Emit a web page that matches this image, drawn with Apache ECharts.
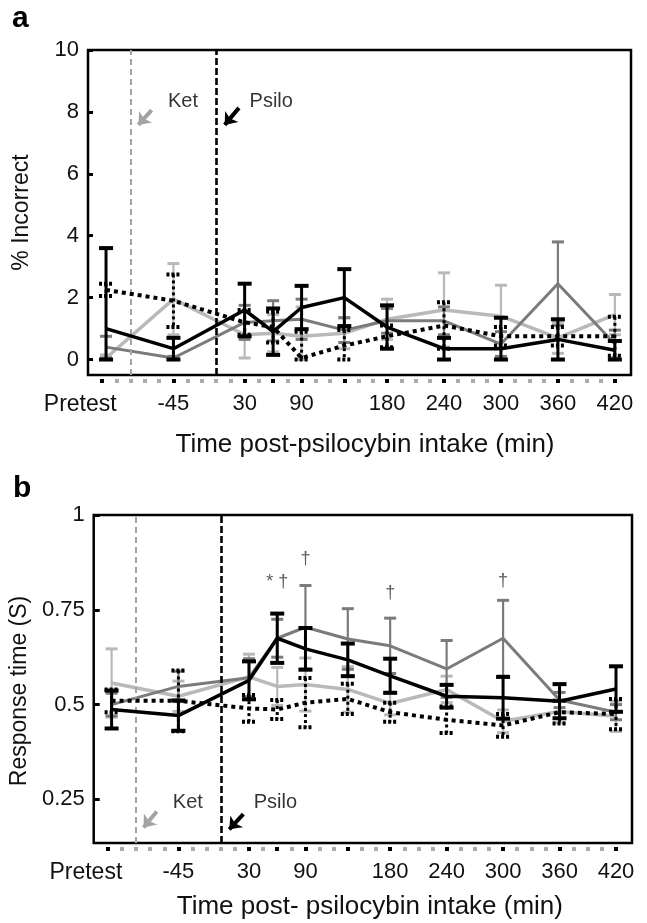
<!DOCTYPE html>
<html><head><meta charset="utf-8">
<script src="https://cdn.jsdelivr.net/npm/echarts@6/dist/echarts.min.js"></script>
<style>html,body{margin:0;padding:0;background:#fff}#c{width:647px;height:923px}</style>
</head><body><div id="c"></div>
<script>
// ---- data (minutes relative to psilocybin intake) ----
const TIMES = [-116, -45, 30, 60, 90, 135, 180, 240, 300, 360, 420];
const TICK_MAJOR = [-120, -45, 30, 60, 90, 135, 180, 240, 300, 360, 420];
const TICK_MINOR = [-105, -90, -75, -60, -30, -15, 0, 15, 45, 75, 105, 120, 150, 165, 195, 210, 225, 255, 270, 285, 315, 330, 345, 375, 390, 405];
const X_LABELS = [-120, -45, 30, 90, 180, 240, 300, 360, 420];
const Y_TICKS_A = [0, 2, 4, 6, 8, 10];
const Y_TICKS_B = [0.25, 0.5, 0.75, 1];
const KET_TIME = -90;
const PSILO_TIME = 0;

// panel a: % incorrect
const A_BLACK = [1.0, 0.35, 1.6, 0.9, 1.68, 2.0, 1.05, 0.35, 0.35, 0.65, 0.3];
const A_BLACK_ERR = [2.6, 0.35, 0.85, 0.75, 0.7, 0.92, 0.7, 0.35, 1.0, 0.65, 0.3];
const A_DGRAY = [0.4, 0.05, 1.2, 1.25, 1.3, 0.95, 1.25, 1.25, 0.5, 2.45, 0.5];
const A_DGRAY_ERR = [0.35, 0.05, 0.55, 0.65, 0.65, 0.4, 0.4, 0.45, 0.4, 1.35, 0.45];
const A_LGRAY = [0.05, 1.95, 0.8, 0.85, 0.75, 0.85, 1.3, 1.6, 1.4, 0.7, 1.45];
const A_LGRAY_ERR = [0.1, 1.15, 0.75, 0.6, 0.95, 0.5, 0.65, 1.2, 1.0, 0.5, 0.65];
const A_DOT = [2.25, 1.9, 1.2, 1.05, 0.05, 0.45, 0.75, 1.1, 0.75, 0.75, 0.75];
const A_DOT_ERR = [0.2, 0.85, 0.4, 0.5, 0.85, 0.5, 0.35, 0.75, 0.3, 0.3, 0.63];

// panel b: response time (s)
const B_BLACK = [0.487, 0.471, 0.564, 0.675, 0.647, 0.618, 0.576, 0.522, 0.518, 0.509, 0.541];
const B_BLACK_ERR = [0.05, 0.04, 0.05, 0.065, 0.055, 0.043, 0.045, 0.03, 0.055, 0.045, 0.06];
const B_DGRAY = [0.50, 0.548, 0.571, 0.675, 0.704, 0.673, 0.655, 0.594, 0.675, 0.512, 0.48];
const B_DGRAY_ERR = [0.03, 0.04, 0.05, 0.05, 0.11, 0.08, 0.073, 0.075, 0.10, 0.02, 0.02];
const B_LGRAY = [0.557, 0.522, 0.573, 0.548, 0.553, 0.54, 0.503, 0.54, 0.456, 0.482, 0.469];
const B_LGRAY_ERR = [0.09, 0.04, 0.06, 0.05, 0.07, 0.06, 0.03, 0.035, 0.03, 0.03, 0.04];
const B_DOT = [0.51, 0.51, 0.49, 0.487, 0.505, 0.515, 0.48, 0.46, 0.445, 0.48, 0.475];
const B_DOT_ERR = [0.03, 0.08, 0.035, 0.025, 0.065, 0.04, 0.025, 0.035, 0.03, 0.03, 0.04];

// significance marks in panel b: [time, value, text]
const SIG_B = [[60, 0.822, '* †'], [90, 0.884, '†'], [180, 0.795, '†'], [300, 0.826, '†']];
// annotation anchors: [time, valueA, valueB]
const KET_TEXT = [-35, 8.35, 0.242];
const PSILO_TEXT = [58, 8.35, 0.242];
const KET_ARROW = [[-68, 8.06, 0.218], [-82, 7.58, 0.176]];
const PSILO_ARROW = [[24, 8.13, 0.211], [9, 7.58, 0.171]];

// ---- styling ----
const FONT = 'Liberation Sans, Arial, Helvetica, sans-serif';
const C_BLACK = '#000', C_DGRAY = '#7b7b7b', C_LGRAY = '#b9b9b9', C_KET = '#a3a3a3';
const X_MIN = -135, X_MAX = 437;

function errRender(color, width, capW, capWidth, dash) {
  return function (params, api) {
    const x = api.value(0), lo = api.value(1), hi = api.value(2);
    const p1 = api.coord([x, hi]), p2 = api.coord([x, lo]);
    const st = { stroke: color, lineWidth: width, fill: null, lineDash: dash || null };
    const cs = { stroke: color, lineWidth: capWidth, fill: null, lineDash: dash ? [3, 2] : null };
    return { type: 'group', children: [
      { type: 'line', shape: { x1: p1[0], y1: p1[1], x2: p2[0], y2: p2[1] }, style: st },
      { type: 'line', shape: { x1: p1[0] - capW / 2, y1: p1[1], x2: p1[0] + capW / 2, y2: p1[1] }, style: cs },
      { type: 'line', shape: { x1: p2[0] - capW / 2, y1: p2[1], x2: p2[0] + capW / 2, y2: p2[1] }, style: cs }
    ]};
  };
}

function group(name, vals, errs, xi, yi, color, lw, dashType, clipZero, z) {
  const pts = TIMES.map((t, i) => [t, vals[i]]);
  const ebs = TIMES.map((t, i) => [t, clipZero ? Math.max(0, vals[i] - errs[i]) : vals[i] - errs[i], vals[i] + errs[i]]);
  const isBlack = color === C_BLACK;
  return [
    { type: 'custom', name: name + ' err', xAxisIndex: xi, yAxisIndex: yi, z: z,
      renderItem: errRender(color, isBlack ? 3 : 2.2, isBlack ? 14 : 12, isBlack ? 4 : 3, dashType ? [3, 3] : null),
      encode: { x: 0, y: [1, 2] }, data: ebs, silent: true },
    { type: 'line', name: name, xAxisIndex: xi, yAxisIndex: yi, z: z, data: pts, showSymbol: false, symbol: 'none',
      lineStyle: { color: color, width: lw, type: dashType || 'solid' }, silent: true }
  ];
}

function decor(xi, yi, k) {
  const ketLine = { xAxis: KET_TIME, lineStyle: { color: C_KET, type: [6, 4], width: 2 } };
  const psiloLine = { xAxis: PSILO_TIME, lineStyle: { color: '#000', type: [7, 3], width: 2.6 } };
  return [
    { type: 'scatter', xAxisIndex: xi, yAxisIndex: yi, symbolSize: 0, silent: true, z: 1,
      data: [
        { name: 'Ket', value: [KET_TEXT[0], KET_TEXT[k]] },
        { name: 'Psilo', value: [PSILO_TEXT[0], PSILO_TEXT[k]] }
      ],
      label: { show: true, position: 'inside', formatter: '{b}', fontFamily: FONT, fontSize: 20, color: '#000' },
      markLine: { silent: true, symbol: 'none', label: { show: false }, animation: false,
        data: [ketLine, psiloLine] } },
    { type: 'line', xAxisIndex: xi, yAxisIndex: yi, data: [], silent: true, z: 1,
      markLine: { silent: true, symbol: ['none', 'arrow'], symbolSize: [13, 11], label: { show: false }, animation: false,
        data: [
          [{ coord: [KET_ARROW[0][0], KET_ARROW[0][k]], lineStyle: { color: C_KET, width: 4, type: 'solid' } },
           { coord: [KET_ARROW[1][0], KET_ARROW[1][k]] }],
          [{ coord: [PSILO_ARROW[0][0], PSILO_ARROW[0][k]], lineStyle: { color: '#000', width: 4, type: 'solid' } },
           { coord: [PSILO_ARROW[1][0], PSILO_ARROW[1][k]] }]
        ] } }
  ];
}

function xAxes(gi, title, padL, gap) {
  return [
    { type: 'value', gridIndex: gi, min: X_MIN, max: X_MAX, position: 'bottom', offset: 4,
      axisLine: { show: false, onZero: false }, splitLine: { show: false },
      axisTick: { show: true, inside: false, length: 4, customValues: TICK_MAJOR, lineStyle: { color: '#000', width: 4 } },
      axisLabel: { show: true, customValues: X_LABELS, margin: 14, fontFamily: FONT, fontSize: 22, color: '#111',
        formatter: v => v === -120 ? '{p|Pretest}' : String(v),
        rich: { p: { fontFamily: FONT, fontSize: 23, color: '#111', padding: [0, 44, 0, 0] } } },
      name: title, nameLocation: 'middle', nameGap: gap,
      nameTextStyle: { fontFamily: FONT, fontSize: 26, color: '#111', padding: [0, 0, 0, padL] } },
    { type: 'value', gridIndex: gi, min: X_MIN, max: X_MAX, position: 'bottom', offset: 4,
      axisLine: { show: false, onZero: false }, splitLine: { show: false }, axisLabel: { show: false },
      axisTick: { show: true, inside: false, length: 4, customValues: TICK_MINOR, lineStyle: { color: '#ababab', width: 4 } } }
  ];
}

const chart = echarts.init(document.getElementById('c'), null, { renderer: 'canvas' });
const option = {
  animation: false,
  backgroundColor: '#fff',
  graphic: [
    { type: 'text', left: 12, top: 4, style: { text: 'a', font: 'bold 30px ' + FONT, fill: '#000' } },
    { type: 'text', left: 13, top: 474, style: { text: 'b', font: 'bold 30px ' + FONT, fill: '#000' } }
  ],
  grid: [
    { left: 88, top: 50, width: 543, height: 325, show: true, borderColor: '#000', borderWidth: 2.5, backgroundColor: 'transparent' },
    { left: 90, top: 515, width: 542, height: 328, show: true, borderColor: '#000', borderWidth: 2.5, backgroundColor: 'transparent' }
  ],
  xAxis: [].concat(
    xAxes(0, 'Time post-psilocybin intake (min)', 11, 53),
    xAxes(1, 'Time post- psilocybin intake (min)', 14, 47)
  ),
  yAxis: [
    { type: 'value', gridIndex: 0, min: -0.5, max: 10, axisLine: { show: false, onZero: false }, splitLine: { show: false },
      axisTick: { show: true, inside: true, length: 5, customValues: Y_TICKS_A, lineStyle: { color: '#000', width: 3 } },
      axisLabel: { customValues: Y_TICKS_A, margin: 9, fontFamily: FONT, fontSize: 22, color: '#111' },
      name: '% Incorrect', nameLocation: 'middle', nameGap: 55,
      nameTextStyle: { fontFamily: FONT, fontSize: 23, color: '#111' } },
    { type: 'value', gridIndex: 1, min: 0.135, max: 1, axisLine: { show: false, onZero: false }, splitLine: { show: false },
      axisTick: { show: true, inside: true, length: 6, customValues: Y_TICKS_B, lineStyle: { color: '#000', width: 3 } },
      axisLabel: { customValues: Y_TICKS_B, margin: 9, fontFamily: FONT, fontSize: 22, color: '#111' },
      name: 'Response time (S)', nameLocation: 'middle', nameGap: 57,
      nameTextStyle: { fontFamily: FONT, fontSize: 23, color: '#111', padding: [0, 24, 0, 0] } }
  ],
  series: [].concat(
    decor(0, 0, 1),
    group('A light', A_LGRAY, A_LGRAY_ERR, 0, 0, C_LGRAY, 3.5, null, true, 3),
    group('A dark', A_DGRAY, A_DGRAY_ERR, 0, 0, C_DGRAY, 3, null, true, 4),
    group('A dotted', A_DOT, A_DOT_ERR, 0, 0, C_BLACK, 4, [4, 4], true, 5),
    group('A black', A_BLACK, A_BLACK_ERR, 0, 0, C_BLACK, 3.5, null, true, 6),
    decor(2, 1, 2),
    group('B light', B_LGRAY, B_LGRAY_ERR, 2, 1, C_LGRAY, 3.5, null, false, 3),
    group('B dark', B_DGRAY, B_DGRAY_ERR, 2, 1, C_DGRAY, 3, null, false, 4),
    group('B dotted', B_DOT, B_DOT_ERR, 2, 1, C_BLACK, 4, [4, 4], false, 5),
    group('B black', B_BLACK, B_BLACK_ERR, 2, 1, C_BLACK, 3.5, null, false, 6),
    [{ type: 'scatter', xAxisIndex: 2, yAxisIndex: 1, symbolSize: 0, silent: true, z: 7,
       data: SIG_B.map(d => ({ value: [d[0], d[1]], name: d[2] })),
       label: { show: true, position: 'inside', formatter: '{b}', fontFamily: FONT, fontSize: 18, color: '#333' } }]
  )
};
chart.setOption(option);
</script></body></html>
